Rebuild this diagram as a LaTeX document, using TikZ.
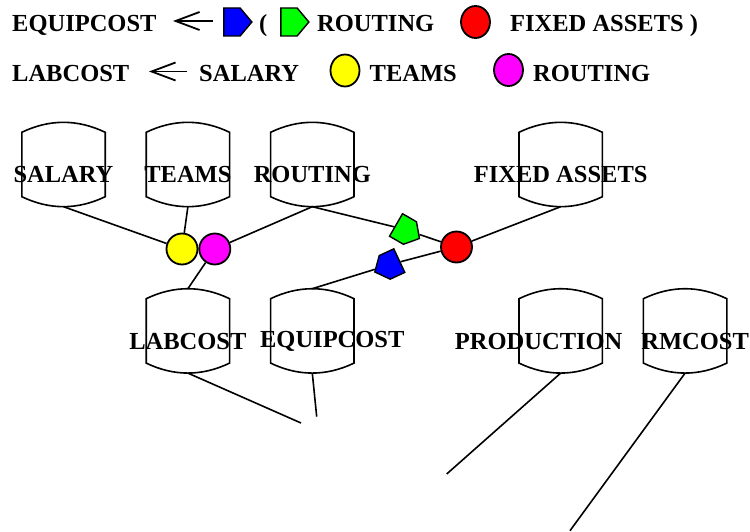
\documentclass[tikz,border=0pt]{standalone}
\usepackage{fontspec}
\setmainfont{Liberation Serif}
\usetikzlibrary{positioning,shapes.geometric,shapes.symbols,arrows.meta}

\definecolor{hubyellow}{RGB}{255,255,0}
\definecolor{hubmagenta}{RGB}{255,0,255}
\definecolor{hubred}{RGB}{255,0,0}
\definecolor{hubgreen}{RGB}{0,255,0}
\definecolor{hubblue}{RGB}{0,0,255}

\tikzset{
  db/.style={minimum width=83pt, minimum height=84pt, inner sep=0pt},
  dblabel/.style={anchor=base, yshift=-10.5pt, inner sep=0pt},
  dbline/.style={line width=1.6pt},
  link/.style={line width=1.6pt},
  hub/.style={circle, draw, line width=1.8pt, minimum size=31pt, inner sep=0pt},
  pent/.style={signal, signal to=east, signal pointer angle=100, draw, line width=1.4pt,
    minimum width=27pt, minimum height=26pt, inner sep=0pt},
  lgtext/.style={anchor=base west, inner sep=0pt},
  lgoval/.style={ellipse, draw, line width=1.8pt, minimum width=29pt, minimum height=32pt, inner sep=0pt},
  lgarrow/.style={line width=1.6pt, arrows={Straight Barb[length=24pt,width=18pt,line width=1.8pt]-}}
}

\begin{document}
\begin{tikzpicture}[x=1pt, y=-1pt, font=\bfseries\fontsize{24.5}{29}\selectfont,
  node distance=82pt and 41pt]

\useasboundingbox (0,0) rectangle (750,532);

% legend
\node[lgtext] (lgequip) at (12,31.5) {EQUIPCOST};
\coordinate (lgtipa) at (173,21);
\coordinate (lgtaila) at (213,21);
\node[pent, minimum width=28pt, minimum height=28pt, fill=hubblue] (lgblue) at (232,22) {};
\node[lgtext] (lgparen) at (259,31.5) {(};
\node[pent, minimum width=28pt, minimum height=28pt, fill=hubgreen] (lggreen) at (289,22) {};
\node[lgtext] (lgrouta) at (317,31.5) {ROUTING};
\node[lgoval, fill=hubred] (lgred) at (475.5,22) {};
\node[lgtext] (lgfixed) at (510,31.5) {FIXED ASSETS )};

\node[lgtext] (lglab) at (12,81.5) {LABCOST};
\coordinate (lgtipb) at (149,71.5);
\coordinate (lgtailb) at (187,71.5);
\node[lgtext] (lgsal) at (199,81.5) {SALARY};
\node[lgoval, fill=hubyellow] (lgyellow) at (345,70.5) {};
\node[lgtext] (lgteams) at (369.5,81.5) {TEAMS};
\node[lgoval, fill=hubmagenta] (lgmagenta) at (508.5,70) {};
\node[lgtext] (lgroutb) at (533,81.5) {ROUTING};

\draw[lgarrow] (lgtipa) -- (lgtaila);
\draw[lgarrow] (lgtipb) -- (lgtailb);

% tables
\node[db, label={[dblabel]center:SALARY}] (salary) at (63.5,164.5) {};
\node[db, right=of salary, label={[dblabel]center:TEAMS}] (teams) {};
\node[db, right=of teams, label={[dblabel]center:ROUTING}] (routing) {};
\node[db, right=165pt of routing, label={[dblabel]center:FIXED ASSETS}] (fixed) {};
\node[db, below=of teams, label={[dblabel]center:LABCOST}] (labcost) {};
\node[db, below=of routing, label={[dblabel, xshift=20pt]center:EQUIPCOST}] (equip) {};
\node[db, below=of fixed, label={[dblabel, xshift=-22pt]center:PRODUCTION}] (production) {};
\node[db, right=of production, label={[dblabel, xshift=10pt]center:RMCOST}] (rmcost) {};

\foreach \n in {salary,teams,routing,fixed,labcost,equip,production,rmcost}
  \draw[dbline] ([yshift=-10pt]\n.north west)
      .. controls ([xshift=27.7pt,yshift=3.3pt]\n.north west) and ([xshift=-27.7pt,yshift=3.3pt]\n.north east) .. ([yshift=-10pt]\n.north east)
    -- ([yshift=10pt]\n.south east)
      .. controls ([xshift=-27.7pt,yshift=-3.3pt]\n.south east) and ([xshift=27.7pt,yshift=-3.3pt]\n.south west) .. ([yshift=10pt]\n.south west)
    -- cycle;

% joins
\node[hub, fill=hubyellow] (yel) at (182,249) {};
\node[hub, fill=hubmagenta, right=0pt of yel] (mag) {};
\node[hub, fill=hubred] (redc) at (456.5,247) {};
\node[pent, fill=hubgreen, rotate=-30] (grn) at (403,229) {};
\node[pent, fill=hubblue, rotate=-155] (blu) at (392,264) {};

\draw[link] (salary.south) -- (yel);
\draw[link] (teams.south) -- (yel);
\draw[link] (routing.south) -- (mag);
\draw[link] (mag) -- (labcost.north);
\draw[link] (routing.south) -- (grn) -- (redc);
\draw[link] (fixed.south) -- (redc);
\draw[link] (redc) -- (blu) -- (equip.north);

% loose ends
\coordinate (enda) at (301,423);
\coordinate (endb) at (316.7,416.7);
\coordinate (endc) at (446.7,474);
\coordinate (endd) at (570,530.7);
\draw[link] (labcost.south) -- (enda);
\draw[link] (equip.south) -- (endb);
\draw[link] (production.south) -- (endc);
\draw[link] (rmcost.south) -- (endd);

\end{tikzpicture}
\end{document}
